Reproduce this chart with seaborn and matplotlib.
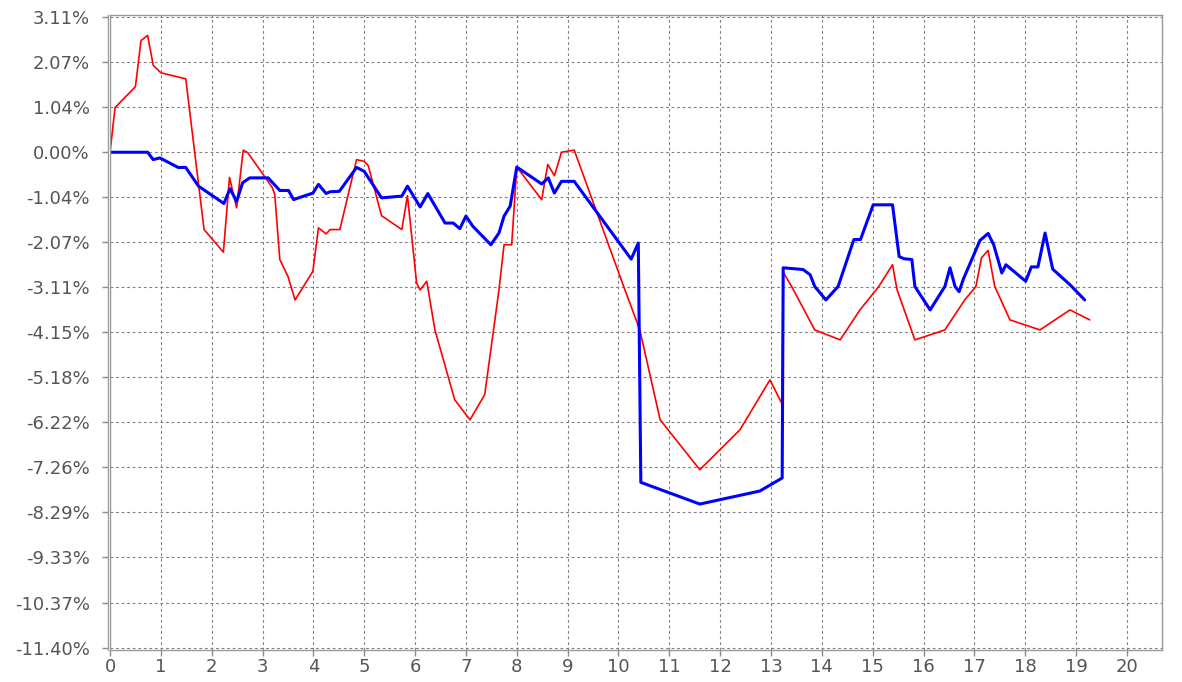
import numpy as np
import matplotlib
matplotlib.use("Agg")
import matplotlib.pyplot as plt
import matplotlib.ticker as mticker
import seaborn as sns

# strategy (red) and benchmark (blue) cumulative returns, in %
red_x = [0.00, 0.10, 0.50, 0.61, 0.74, 0.85, 1.00, 1.49, 1.85, 2.23, 2.35, 2.49, 2.62, 2.71,
         3.19, 3.24, 3.34, 3.50, 3.64, 3.80, 3.99, 4.10, 4.25, 4.33, 4.52, 4.85, 5.00, 5.08,
         5.34, 5.74, 5.85, 6.03, 6.10, 6.23, 6.39, 6.78, 7.08, 7.37, 7.65, 7.75, 7.90, 8.00,
         8.49, 8.61, 8.74, 8.88, 9.13, 10.09, 10.42, 10.82, 11.60, 12.39, 12.98, 13.22, 13.24,
         13.41, 13.86, 14.36, 14.75, 15.12, 15.39, 15.48, 15.83, 16.42, 16.81, 17.03, 17.14,
         17.27, 17.40, 17.70, 18.29, 18.88, 19.27]
red_y = [0.00, 1.03, 1.51, 2.57, 2.69, 2.00, 1.83, 1.69, -1.78, -2.30, -0.58, -1.28, 0.05, -0.01,
         -0.81, -0.97, -2.47, -2.86, -3.40, -3.10, -2.74, -1.74, -1.88, -1.78, -1.78, -0.17, -0.21, -0.31,
         -1.46, -1.78, -1.00, -3.01, -3.17, -2.97, -4.09, -5.70, -6.16, -5.58, -3.17, -2.13, -2.13, -0.34,
         -1.09, -0.28, -0.54, 0.00, 0.05, -3.05, -4.09, -6.16, -7.31, -6.39, -5.24, -5.80, -2.76,
         -3.10, -4.09, -4.32, -3.63, -3.09, -2.59, -3.17, -4.32, -4.09, -3.40, -3.09, -2.43,
         -2.26, -3.09, -3.86, -4.09, -3.63, -3.86]

blue_x = [0.00, 0.74, 0.85, 0.98, 1.34, 1.49, 1.74, 2.24, 2.36, 2.49, 2.61, 2.75, 3.11, 3.34,
          3.51, 3.61, 3.99, 4.10, 4.25, 4.33, 4.51, 4.85, 5.00, 5.34, 5.74, 5.85, 6.10, 6.25,
          6.59, 6.75, 6.88, 7.00, 7.14, 7.49, 7.65, 7.75, 7.87, 8.00, 8.49, 8.62, 8.74, 8.88,
          9.13, 10.25, 10.39, 10.44, 11.60, 12.78, 13.22, 13.24, 13.63, 13.77, 13.86, 14.08,
          14.32, 14.63, 14.76, 15.01, 15.39, 15.52, 15.61, 15.77, 15.83, 16.13, 16.42, 16.52,
          16.62, 16.70, 16.78, 17.11, 17.27, 17.38, 17.54, 17.62, 18.01, 18.12, 18.25, 18.39,
          18.54, 18.88, 19.17]
blue_y = [0.00, 0.00, -0.17, -0.13, -0.35, -0.35, -0.78, -1.18, -0.84, -1.13, -0.70, -0.59, -0.59, -0.88,
          -0.88, -1.09, -0.94, -0.74, -0.95, -0.91, -0.90, -0.35, -0.44, -1.05, -1.01, -0.78, -1.26, -0.95,
          -1.63, -1.63, -1.76, -1.47, -1.71, -2.13, -1.86, -1.47, -1.24, -0.34, -0.73, -0.59, -0.94, -0.67,
          -0.67, -2.46, -2.09, -7.60, -8.10, -7.80, -7.50, -2.66, -2.70, -2.82, -3.09, -3.40,
          -3.09, -2.01, -2.01, -1.21, -1.21, -2.40, -2.45, -2.47, -3.09, -3.63, -3.09, -2.66,
          -3.09, -3.21, -2.93, -2.03, -1.87, -2.13, -2.78, -2.59, -2.97, -2.64, -2.64, -1.86,
          -2.69, -3.05, -3.40]

y_step = 3.11 / 3
y_ticks = [y_step * k for k in range(3, -12, -1)]
x_ticks = list(range(0, 21))

sns.set_style("white")
plt.rcParams['font.family'] = ['DejaVu Sans']

fig = plt.figure(figsize=(11.82, 6.82), dpi=100)
ax = fig.add_axes([110 / 1182, 32 / 682, 1052 / 1182, 635 / 682])

sns.lineplot(x=red_x, y=red_y, sort=False, estimator=None, color='#ff0000', linewidth=1.2, ax=ax)
sns.lineplot(x=blue_x, y=blue_y, sort=False, estimator=None, color='#0000ff', linewidth=2.2, ax=ax)

ax.set_xlim(0, 20.69)
ax.set_ylim(-11.46, 3.16)
ax.yaxis.set_major_locator(mticker.FixedLocator(y_ticks))
ax.yaxis.set_major_formatter(mticker.FuncFormatter(lambda v, p: f"{v:.2f}%"))
ax.xaxis.set_major_locator(mticker.FixedLocator(x_ticks))

ax.grid(True, color='#808080', linestyle=(0, (2.5, 2.5)), linewidth=0.8)
for s in ax.spines.values():
    s.set_color('#9a9a9a')
    s.set_linewidth(1.0)
ax.spines['left'].set_position(('outward', 1.5))
ax.axvline(0, color='#9a9a9a', linewidth=1.0)

ax.tick_params(axis='both', colors='#8a8a8a', labelcolor='#555555', labelsize=13,
               length=4, width=1, direction='out', left=True, bottom=True, pad=9)
ax.tick_params(axis='x', pad=2)

fig.savefig('out.png', dpi=100)
